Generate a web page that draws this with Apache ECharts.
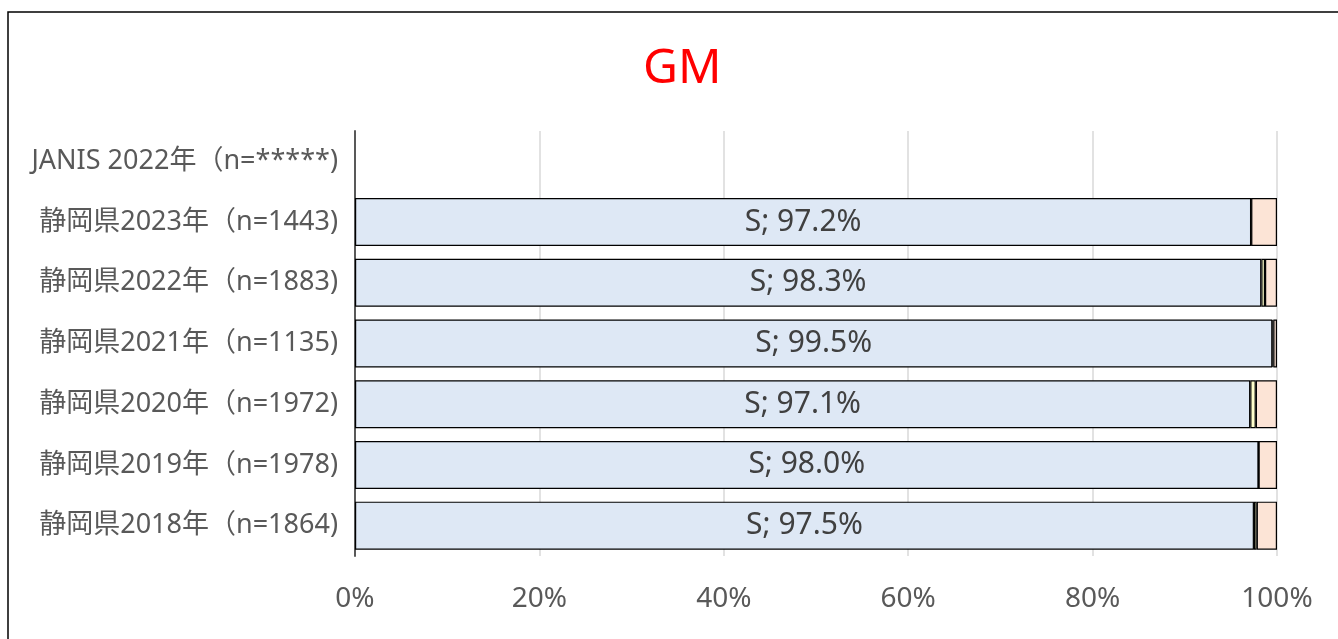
<!DOCTYPE html>
<html>
<head>
<meta charset="utf-8">
<script src="https://cdn.jsdelivr.net/npm/echarts@6/dist/echarts.min.js"></script>
<style>
  html, body { margin: 0; padding: 0; background: #fff; }
  #chart { width: 1338px; height: 639px; }
</style>
</head>
<body>
<div id="chart"></div>
<script>
// categories from bottom to top
const categories = [
  '静岡県2018年（n=1864)',
  '静岡県2019年（n=1978)',
  '静岡県2020年（n=1972)',
  '静岡県2021年（n=1135)',
  '静岡県2022年（n=1883)',
  '静岡県2023年（n=1443)',
  'JANIS 2022年（n=*****)'
];
const sValues = [97.5, 98.0, 97.1, 99.5, 98.3, 97.2, null];
const iValues = [0.3, 0.0, 0.6, 0.1, 0.4, 0.0, null];
const rValues = [2.2, 2.0, 2.3, 0.4, 1.3, 2.8, null];
const xTicks = [0, 20, 40, 60, 80, 100];

const fontJP = '"Noto Sans", "Noto Sans CJK JP", sans-serif';

const chart = echarts.init(document.getElementById('chart'));

// 共通のバー設定
function barSeries(name, data, color, showLabel) {
  return {
    name: name,
    type: 'bar',
    stack: 'total',
    data: data,
    barWidth: 48,
    itemStyle: {
      color: color,
      borderColor: '#000',
      borderWidth: 1.2
    },
    label: {
      show: showLabel,
      position: 'inside',
      color: '#404040',
      fontSize: 30,
      fontFamily: fontJP,
      formatter: function (p) {
        return p.value == null ? '' : name + '; ' + p.value.toFixed(1) + '%';
      }
    },
    emphasis: { disabled: true }
  };
}

const option = {
  animation: false,
  title: {
    text: 'GM',
    left: 638,
    top: 40,
    textStyle: { color: '#ff0000', fontSize: 48, fontWeight: 'normal', fontFamily: fontJP }
  },
  graphic: [{
    type: 'rect',
    shape: { x: 8, y: 12, width: 1340, height: 640 },
    style: { fill: 'none', stroke: '#000', lineWidth: 1.5 },
    silent: true
  }],
  grid: { left: 355, right: 61, top: 131, bottom: 83 },
  xAxis: {
    type: 'value',
    min: 0,
    max: 100,
    interval: 20,
    axisLine: { show: false },
    axisTick: { show: false },
    splitLine: { lineStyle: { color: '#d9d9d9', width: 1.5 } },
    axisLabel: {
      color: '#595959',
      fontSize: 28,
      fontFamily: fontJP,
      margin: 29,
      formatter: function (v) { return xTicks.indexOf(v) >= 0 ? v + '%' : ''; }
    }
  },
  yAxis: {
    type: 'category',
    data: categories,
    axisLine: { lineStyle: { color: '#595959', width: 2 } },
    axisTick: { show: false },
    axisLabel: {
      color: '#595959',
      fontSize: 27,
      fontFamily: fontJP,
      margin: 17
    }
  },
  series: [
    barSeries('S', sValues, '#dee8f5', true),
    barSeries('I', iValues, '#ffffcc', false),
    barSeries('R', rValues, '#fce4d6', false)
  ]
};

chart.setOption(option);
</script>
</body>
</html>
